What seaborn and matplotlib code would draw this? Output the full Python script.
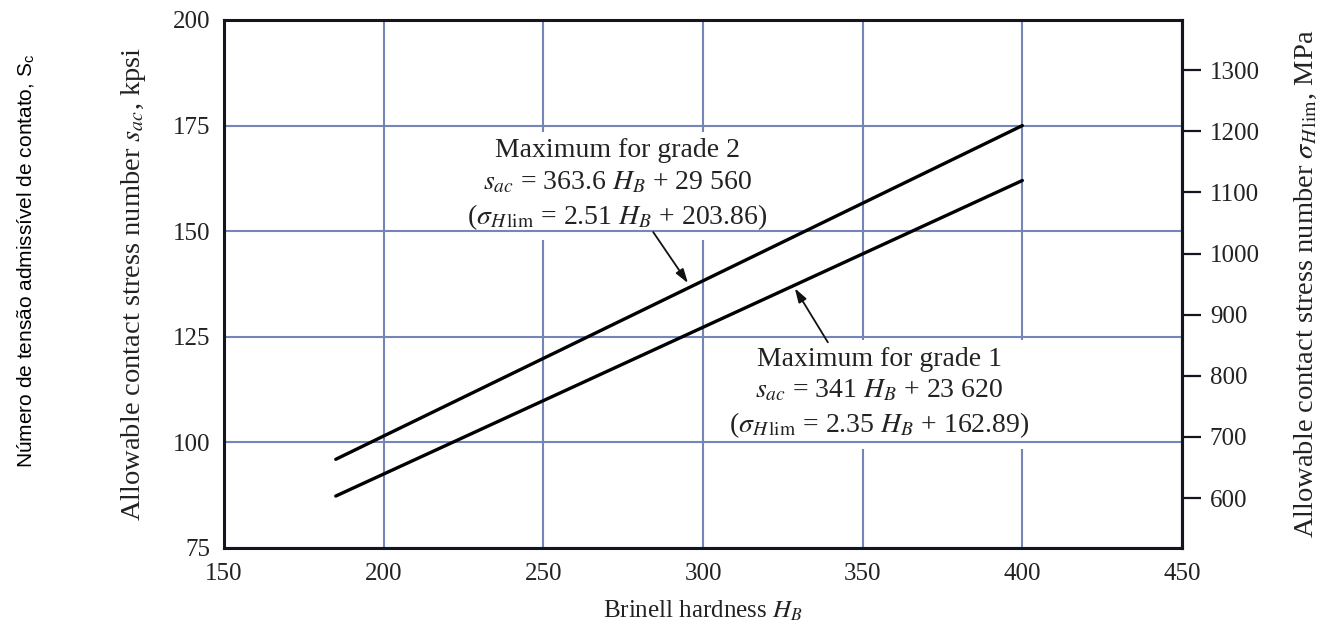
import matplotlib
matplotlib.use("Agg")
import matplotlib.pyplot as plt
import seaborn as sns
import pandas as pd

# ---- data ----
hardness = [185, 400]
grade1_kpsi = [87.3, 162.0]
grade2_kpsi = [96.0, 175.0]

x_ticks = [150, 200, 250, 300, 350, 400, 450]
y_ticks = [75, 100, 125, 150, 175, 200]
mpa_ticks = [600, 700, 800, 900, 1000, 1100, 1200, 1300]
KPSI_TO_MPA = 6.91

grade2_text = ("Maximum for grade 2\n"
               r"$s_{ac}$ = 363.6 $H_B$ + 29 560" "\n"
               r"($\sigma_{H\,\mathrm{lim}}$ = 2.51 $H_B$ + 203.86)")
grade1_text = ("Maximum for grade 1\n"
               r"$s_{ac}$ = 341 $H_B$ + 23 620" "\n"
               r"($\sigma_{H\,\mathrm{lim}}$ = 2.35 $H_B$ + 162.89)")

df = pd.DataFrame({
    "HB": hardness * 2,
    "sac": grade1_kpsi + grade2_kpsi,
    "grade": ["grade 1"] * 2 + ["grade 2"] * 2,
})

sns.set_theme(style="white")
plt.rcParams["font.family"] = ["Liberation Serif", "DejaVu Serif"]
plt.rcParams["mathtext.fontset"] = "stix"

GRID = "#7585b8"
SPINE = "#15151f"
TXT = "#222222"

fig = plt.figure(figsize=(13.23, 6.35), dpi=100)
ax = fig.add_axes([224 / 1323, 1 - 548 / 635, (1182 - 224) / 1323, (548 - 20) / 635])

sns.lineplot(data=df, x="HB", y="sac", units="grade", estimator=None,
             color="black", linewidth=2.4, ax=ax, legend=False, zorder=5)

ax.set_xlim(150, 450)
ax.set_ylim(75, 200)
ax.set_xticks(x_ticks)
ax.set_yticks(y_ticks)
ax.set_axisbelow(True)
ax.grid(True, axis="x", color=GRID, linewidth=1.5)
# horizontal grid lines drawn above the white label boxes, as in the reference
for yv in y_ticks:
    ax.axhline(yv, color=GRID, linewidth=1.5, zorder=3.5)
for s in ax.spines.values():
    s.set_visible(True)
    s.set_color(SPINE)
    s.set_linewidth(2.2)
    s.set_zorder(6)
ax.tick_params(axis="both", length=0, labelsize=18, colors=TXT)
ax.tick_params(axis="y", pad=10)
ax.tick_params(axis="x", pad=11)

ax.set_xlabel(r"Brinell hardness $H_B$", fontsize=18, color=TXT, labelpad=10)
ax.set_ylabel(r"Allowable contact stress number $s_{ac}$, kpsi", fontsize=20.5,
              color=TXT, labelpad=18)

sec = ax.secondary_yaxis("right", functions=(lambda v: v * KPSI_TO_MPA,
                                             lambda v: v / KPSI_TO_MPA))
sec.set_yticks(mpa_ticks)
sec.tick_params(axis="y", direction="out", length=14, width=1.6,
                color=SPINE, labelsize=18, labelcolor=TXT, pad=6)
sec.spines["right"].set_color(SPINE)
sec.spines["right"].set_linewidth(2.2)
sec.set_ylabel(r"Allowable contact stress number $\sigma_{H\,\mathrm{lim}}$, MPa",
               fontsize=20.5, color=TXT, labelpad=24)

box = dict(facecolor="white", edgecolor="none", pad=6)
ax.text(273.1, 160.9, grade2_text, ha="center", va="center", multialignment="center",
        fontsize=20, color=TXT, linespacing=1.32, bbox=box, zorder=3)
ax.text(355.3, 111.6, grade1_text, ha="center", va="center", multialignment="center",
        fontsize=20, color=TXT, linespacing=1.32, bbox=box, zorder=3)

arrow = dict(arrowstyle="-|>,head_length=0.7,head_width=0.22", color="#111111",
             lw=1.3, shrinkA=0, shrinkB=0)
ax.annotate("", xy=(295.3, 137.7), xytext=(284.4, 149.8), arrowprops=arrow, zorder=6)
ax.annotate("", xy=(328.75, 136.5), xytext=(339.1, 123.7), arrowprops=arrow, zorder=6)

fig.text(26 / 1323, 1 - 261 / 635, "Número de tensão admissível de contato, S$_\\mathregular{c}$",
         rotation=90, ha="center", va="center", fontsize=15,
         family=["Liberation Sans", "DejaVu Sans"], color="black")

fig.savefig("out.png", dpi=100, facecolor="white")
